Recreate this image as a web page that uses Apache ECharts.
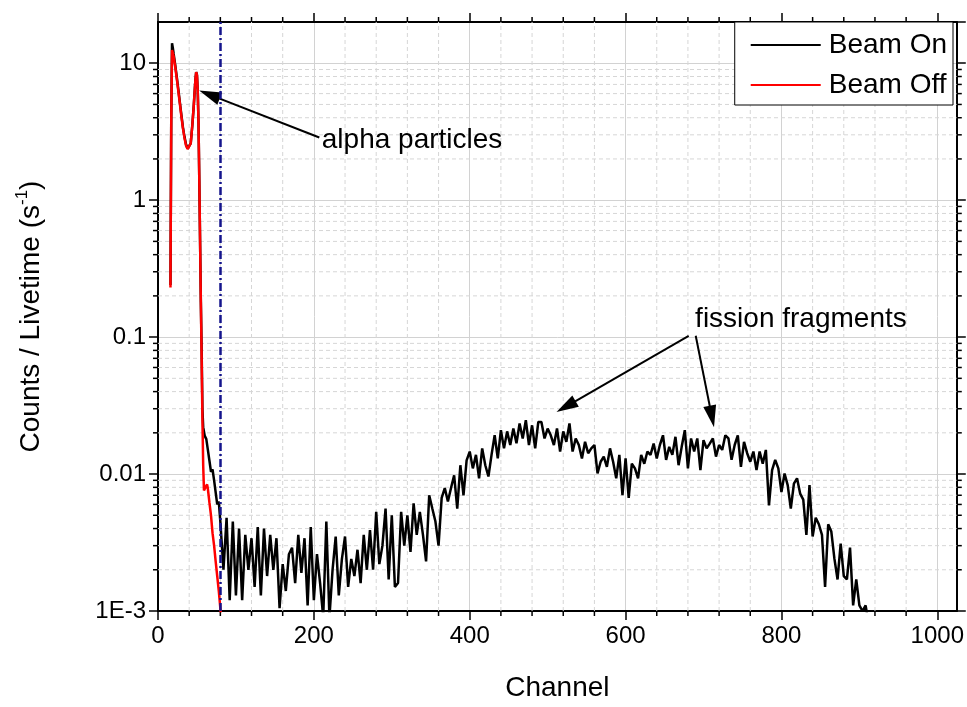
<!DOCTYPE html>
<html><head><meta charset="utf-8">
<script src="https://cdn.jsdelivr.net/npm/echarts@6/dist/echarts.min.js"></script>
<style>html,body{margin:0;padding:0;background:#fff}#c{width:967px;height:707px}</style>
</head><body><div id="c"></div>
<script>
// ---------- data ----------
const beamOnHeadChannels = [16,17,18,19,20,22,24,26,28,30,32,34,36,38,40,42,44,46,48,49,50,51,52,53,54,55,56,57,58,60,62,64,66,68,70,72,74,76,78];
const beamOnHeadValues = [0.24,4.0,14.0,13.0,11.8,9.8,8.0,6.5,5.2,4.2,3.4,2.9,2.55,2.38,2.37,2.6,3.5,5.0,7.6,8.6,8.2,6.3,3.6,1.4,0.5,0.18,0.08,0.03,0.022,0.019,0.018,0.015,0.0125,0.0104,0.0108,0.009,0.0088,0.006,0.0063];
const beamOnTailStart = 80;
const beamOnTailStep = 4;
const beamOnTailValues = [
0.0045,0.0020,0.0048,0.0012,0.0045,0.0013,0.0040,0.0012,0.0036,0.0020,
0.0034,0.0015,0.0041,0.0013,0.0040,0.0018,0.0036,0.0020,0.0034,0.00105,
0.0022,0.0014,0.0026,0.0029,0.0016,0.0036,0.0019,0.0034,0.0011,0.0041,
0.0012,0.0026,0.0016,0.0009,0.0045,0.0009,0.0020,0.0035,0.0013,0.0024,
0.0035,0.0015,0.0024,0.0018,0.0028,0.0016,0.0036,0.0020,0.0039,0.0020,
0.0053,0.0022,0.0030,0.0056,0.0017,0.0050,0.0015,0.0016,0.0053,0.0030,
0.0050,0.0027,0.0061,0.0036,0.0053,0.0036,0.0023,0.0070,0.0056,0.0045,
0.0030,0.0067,0.0079,0.0063,0.0079,0.0098,0.0056,0.0116,0.0070,0.0126,
0.0146,0.0110,0.0138,0.0093,0.0154,0.0116,0.0096,0.0138,0.0192,0.0130,
0.0209,0.0154,0.0205,0.0163,0.0215,0.0168,0.0234,0.0182,0.0247,0.0163,
0.0227,0.0154,0.0240,0.0240,0.0182,0.0215,0.0192,0.0163,0.0215,0.0146,
0.0205,0.0172,0.0234,0.0146,0.0182,0.0163,0.0130,0.0172,0.0142,0.0154,
0.0163,0.0101,0.0123,0.0134,0.0113,0.0154,0.0123,0.0093,0.0138,0.0070,
0.0130,0.0067,0.0119,0.0110,0.0093,0.0138,0.0119,0.0146,0.0138,0.0167,
0.0130,0.0163,0.0192,0.0127,0.0158,0.0138,0.0187,0.0116,0.0158,0.0209,
0.0110,0.0182,0.0146,0.0182,0.0107,0.0177,0.0154,0.0167,0.0182,0.0134,
0.0163,0.0150,0.0192,0.0182,0.0127,0.0163,0.0192,0.0113,0.0172,0.0142,
0.0123,0.0146,0.0107,0.0146,0.0119,0.0150,0.0059,0.0107,0.0127,0.0110,
0.0074,0.0101,0.0083,0.0056,0.0085,0.0093,0.0072,0.0065,0.0036,0.0083,
0.0035,0.0048,0.0043,0.0036,0.0015,0.0043,0.0038,0.0024,0.0017,0.0031,
0.0018,0.0017,0.0029,0.0011,0.0017,0.0011,0.0010,0.0011,0.0008];

const beamOffChannels = [16,17,18,19,20,22,24,26,28,30,32,34,36,38,40,42,44,46,48,49,50,51,52,53,54,55,56,57,58,59,61,63,64,66,68,70,72,74,76,78,80,81];
const beamOffValues = [0.23,3.8,12.5,12.2,11.3,9.5,7.8,6.3,5.1,4.1,3.35,2.85,2.5,2.36,2.35,2.6,3.5,5.0,7.6,8.6,8.2,6.3,3.6,1.4,0.5,0.18,0.07,0.025,0.0115,0.0076,0.0078,0.0084,0.0078,0.0062,0.005,0.0037,0.003,0.0023,0.0018,0.0014,0.00105,0.0009];

const seriesNames = ['Beam On', 'Beam Off'];
const xMin = 0, xMax = 1025;
const yMin = 0.001, yMax = 20;
const xTickValues = [0,200,400,600,800,1000];
const xMinorTicks = [40,80,120,160,240,280,320,360,440,480,520,560,640,680,720,760,840,880,920,960];
const yTickValues = [0.001,0.01,0.1,1,10];
const yTickLabels = ['1E-3','0.01','0.1','1','10'];
const yMinorTicks = [0.002,0.003,0.004,0.005,0.006,0.007,0.008,0.009,
  0.02,0.03,0.04,0.05,0.06,0.07,0.08,0.09,
  0.2,0.3,0.4,0.5,0.6,0.7,0.8,0.9,
  2,3,4,5,6,7,8,9];
const cutoffChannel = 80;
const annotTexts = ['alpha particles', 'fission fragments'];
const annotAt = [[326, 2.73], [825, 0.136]];
const arrowFrom = [[207, 2.87], [681, 0.1022], [690, 0.1022]];
const arrowTo = [[66, 5.9], [523.6, 0.0311], [710.7, 0.0263]];

// ---------- build ----------
const beamOnData = beamOnHeadChannels.map((c, i) => [c, beamOnHeadValues[i]])
  .concat(beamOnTailValues.map((v, i) => [beamOnTailStart + i * beamOnTailStep, v]));
const beamOffData = beamOffChannels.map((c, i) => [c, beamOffValues[i]]);

const FONT = '"Liberation Sans", Arial, Helvetica, sans-serif';
const GRID_MAJOR = '#d2d2d2';
const GRID_MINOR = '#d6d6d6';
const TICK = {color:'#000', width:1.5};

function yLabel(v) {
  let best = 0, bd = Infinity;
  yTickValues.forEach((t, i) => { const d = Math.abs(Math.log10(v) - Math.log10(t)); if (d < bd) { bd = d; best = i; } });
  return bd < 0.01 ? yTickLabels[best] : '';
}

const chart = echarts.init(document.getElementById('c'), null, {renderer:'canvas'});
chart.setOption({
  animation: false,
  backgroundColor: '#fff',
  textStyle: {fontFamily: FONT},
  grid: {left: 158, right: 8, top: 22, bottom: 94, containLabel: false},
  legend: {
    data: [{name: seriesNames[0], icon: 'rect'}, {name: seriesNames[1], icon: 'rect'}],
    orient: 'vertical', right: 14, top: 22,
    itemWidth: 70, itemHeight: 2, itemGap: 12,
    padding: [9, 6, 6, 16],
    borderColor: '#000', borderWidth: 1, borderRadius: 0, backgroundColor: '#fff',
    textStyle: {fontSize: 28, color: '#000', fontFamily: FONT, padding: [0, 0, 0, 3]},
    selectedMode: false
  },
  xAxis: [{
    type: 'value', min: xMin, max: xMax, interval: 200, position: 'bottom',
    name: 'Channel', nameLocation: 'middle', nameGap: 63,
    nameTextStyle: {fontSize: 28, color: '#000', fontFamily: FONT},
    axisLine: {show: true, onZero: false, lineStyle: {color: '#000', width: 2}},
    axisTick: {show: true, inside: false, length: 9, lineStyle: TICK, customValues: xTickValues},
    axisLabel: {fontSize: 24, color: '#000', margin: 13, fontFamily: FONT, customValues: xTickValues,
      formatter: v => String(Math.round(v))},
    splitLine: {show: true, lineStyle: {color: GRID_MAJOR, width: 1}},
    minorTick: {show: false}, minorSplitLine: {show: false}
  }, {
    type: 'value', min: xMin, max: xMax, interval: 200, position: 'top',
    axisLine: {show: true, onZero: false, lineStyle: {color: '#000', width: 2}},
    axisTick: {show: true, inside: false, length: 9, lineStyle: TICK, customValues: xTickValues},
    axisLabel: {show: false}, splitLine: {show: false}
  }],
  yAxis: [{
    type: 'log', logBase: 10, min: yMin, max: yMax, position: 'left',
    name: 'Counts / Livetime (s{sup|-1})', nameLocation: 'middle', nameGap: 110,
    nameTextStyle: {fontSize: 28, color: '#000', fontFamily: FONT, lineHeight: 34,
      rich: {sup: {fontSize: 17, fontFamily: FONT, color: '#000', verticalAlign: 'top', lineHeight: 17}}},
    axisLine: {show: true, onZero: false, lineStyle: {color: '#000', width: 2}},
    axisTick: {show: true, inside: false, length: 9, lineStyle: TICK},
    axisLabel: {fontSize: 24, color: '#000', margin: 12, fontFamily: FONT, formatter: yLabel, showMaxLabel: false},
    splitLine: {show: true, lineStyle: {color: GRID_MAJOR, width: 1}}
  }, {
    type: 'log', logBase: 10, min: yMin, max: yMax, position: 'right',
    axisLine: {show: true, onZero: false, lineStyle: {color: '#000', width: 2}},
    axisTick: {show: true, inside: false, length: 9, lineStyle: TICK},
    axisLabel: {show: false}, splitLine: {show: false}
  }],
  series: [
    {
      name: 'xminor', type: 'custom', xAxisIndex: 0, yAxisIndex: 0, clip: false, silent: true, z: 1,
      data: xMinorTicks.map(x => [x, 1]),
      renderItem: function (params, api) {
        const x = api.value(0);
        const b = api.coord([x, yMin]), t = api.coord([x, yMax]);
        return {type: 'group', children: [
          {type: 'line', shape: {x1: b[0], y1: b[1], x2: t[0], y2: t[1]}, style: {stroke: GRID_MINOR, lineWidth: 1, lineDash: [4, 3]}},
          {type: 'line', shape: {x1: b[0], y1: b[1], x2: b[0], y2: b[1] + 5}, style: {stroke: '#000', lineWidth: 1.5}},
          {type: 'line', shape: {x1: t[0], y1: t[1], x2: t[0], y2: t[1] - 5}, style: {stroke: '#000', lineWidth: 1.5}}
        ]};
      }
    },
    {
      name: 'yminor', type: 'custom', xAxisIndex: 0, yAxisIndex: 0, clip: false, silent: true, z: 1,
      data: yMinorTicks.map(v => [0, v]),
      renderItem: function (params, api) {
        const v = api.value(1);
        const l = api.coord([xMin, v]), r = api.coord([xMax, v]);
        return {type: 'group', children: [
          {type: 'line', shape: {x1: l[0], y1: l[1], x2: r[0], y2: r[1]}, style: {stroke: GRID_MINOR, lineWidth: 1, lineDash: [4, 3]}},
          {type: 'line', shape: {x1: l[0] - 5, y1: l[1], x2: l[0], y2: l[1]}, style: {stroke: '#000', lineWidth: 1.5}},
          {type: 'line', shape: {x1: r[0], y1: r[1], x2: r[0] + 5, y2: r[1]}, style: {stroke: '#000', lineWidth: 1.5}}
        ]};
      }
    },
    {
      name: seriesNames[0], type: 'line', data: beamOnData, showSymbol: false, symbol: 'none',
      color: '#000', lineStyle: {color: '#000', width: 2.5}, z: 3, clip: true,
      markLine: {
        silent: true, symbol: ['none', 'triangle'], symbolSize: [13, 22], z: 6,
        lineStyle: {color: '#000', width: 2, type: 'solid'}, label: {show: false},
        data: arrowFrom.map((f, i) => [{coord: f}, {coord: arrowTo[i]}])
      },
      markPoint: {
        silent: true, symbol: 'circle', symbolSize: 1, itemStyle: {color: 'rgba(0,0,0,0)'},
        label: {show: true, position: 'inside', color: '#000', fontSize: 28, fontFamily: FONT, formatter: p => p.name},
        data: annotTexts.map((t, i) => ({name: t, coord: annotAt[i]}))
      }
    },
    {
      name: seriesNames[1], type: 'line', data: beamOffData, showSymbol: false, symbol: 'none',
      color: '#ff0000', lineStyle: {color: '#ff0000', width: 2.5}, z: 4, clip: true,
      markLine: {
        silent: true, symbol: ['none', 'none'], z: 7,
        lineStyle: {color: '#14148c', width: 2.5, type: [8, 3, 2, 3]}, label: {show: false},
        data: [{xAxis: cutoffChannel}]
      }
    }
  ]
});
</script></body></html>
